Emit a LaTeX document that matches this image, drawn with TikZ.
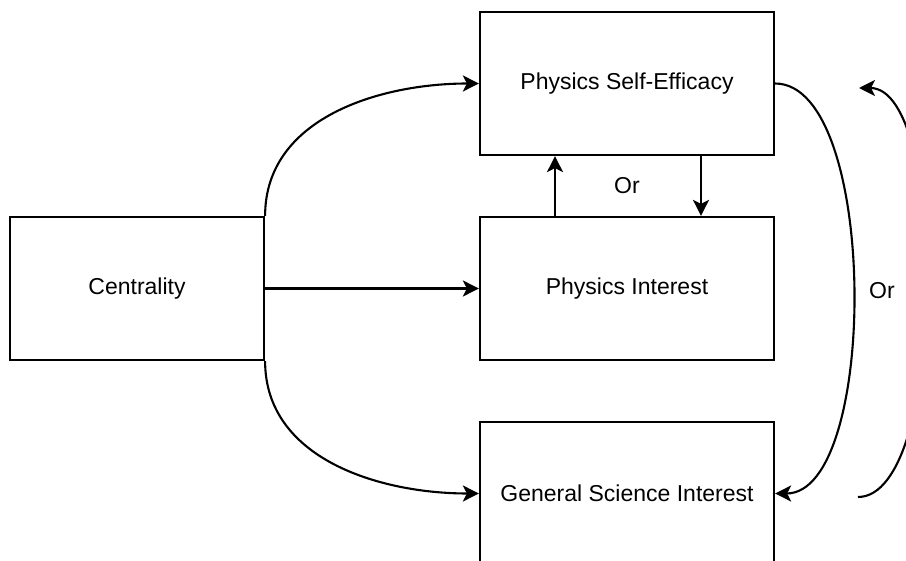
\documentclass[tikz,border=0pt]{standalone}
\usepackage{fontspec}
\setmainfont{Liberation Sans}
\usetikzlibrary{arrows.meta}
\begin{document}
\begin{tikzpicture}[x=1pt,y=1pt,
  box/.style={draw,line width=2.2pt,minimum height=143pt,inner sep=0pt,font=\fontsize{23}{27}\selectfont},
  lbl/.style={inner sep=0pt,font=\fontsize{23}{27}\selectfont},
  arr/.style={line width=2.1pt,-{Stealth[length=16pt,width=16pt,inset=4pt]}}]
\useasboundingbox (0,0) rectangle (906,-561);
\clip (0,0) rectangle (906,-561);
\node[box,minimum width=254pt] (cent) at (137,-288.5) {Centrality};
\node[box,minimum width=294pt] (pse) at (627,-83.5) {Physics Self-Efficacy};
\node[box,minimum width=294pt] (pi) at (627,-288.5) {Physics Interest};
\node[box,minimum width=294pt] (gsi) at (627,-493.5) {General Science Interest};
\node[lbl] (or1) at (627,-186) {Or};
\node[lbl] (or2) at (882,-291) {Or};
\coordinate (oa) at (858,-497);
\coordinate (ob) at (859,-88);
\draw[arr] (cent.north east) to[out=90,in=180] (pse.west);
\draw[arr] (cent.east) -- (pi.west);
\draw[arr] (cent.south east) to[out=-90,in=180] (gsi.west);
\draw[arr] ([xshift=-72pt]pi.north) -- ([xshift=-72pt]pse.south);
\draw[arr] ([xshift=74pt]pse.south) -- ([xshift=74pt]pi.north);
\draw[arr] (pse.east) to[out=0,in=0,looseness=0.65] (gsi.east);
\draw[arr] (oa) to[out=0,in=0,looseness=0.56] (ob);
\end{tikzpicture}
\end{document}
